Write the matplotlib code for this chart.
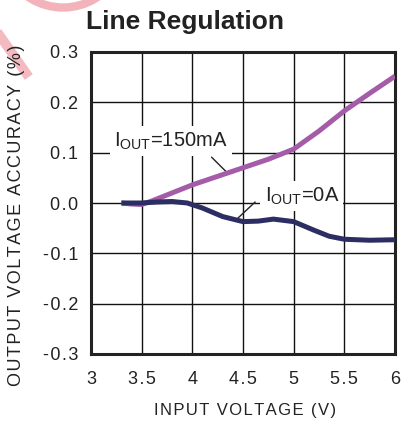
import numpy as np
import matplotlib
matplotlib.use('Agg')
import matplotlib.pyplot as plt
from matplotlib.patches import Arc
from matplotlib.lines import Line2D

plt.rcParams['font.family'] = ['Liberation Sans', 'DejaVu Sans']
plt.rcParams['mathtext.fontset'] = 'custom'
plt.rcParams['mathtext.rm'] = 'Liberation Sans'
plt.rcParams['mathtext.it'] = 'Liberation Sans'

# data
vin_150 = [3.3, 3.4, 3.5, 3.6, 3.8, 4.0, 4.25, 4.5, 4.75, 5.0, 5.25, 5.5, 5.75, 6.0]
acc_150 = [0.0, -0.002, -0.003, 0.004, 0.02, 0.036, 0.053, 0.07, 0.087, 0.107, 0.143, 0.183, 0.218, 0.252]
vin_0 = [3.3, 3.5, 3.65, 3.8, 3.95, 4.1, 4.3, 4.5, 4.65, 4.8, 5.0, 5.2, 5.35, 5.5, 5.75, 6.0]
acc_0 = [0.0, 0.0, 0.002, 0.003, 0.0, -0.01, -0.027, -0.037, -0.036, -0.032, -0.037, -0.054, -0.066, -0.072, -0.074, -0.073]

xticks = [3, 3.5, 4, 4.5, 5, 5.5, 6]
yticks = [-0.3, -0.2, -0.1, 0.0, 0.1, 0.2, 0.3]

HS = '\u200a'  # hair space for the loose letter spacing of the original


def spaced(s):
    return HS.join(s)


fig = plt.figure(figsize=(4.12, 4.24), dpi=100)
ax = fig.add_axes([91/412, 1-354/424, 304/412, 302/424])

ax.plot(vin_150, acc_150, color='#a45ba8', lw=3.6, zorder=3, solid_capstyle='butt')
ax.plot(vin_0, acc_0, color='#2c2e63', lw=3.6, zorder=3, solid_capstyle='butt')

ax.set_xlim(3, 6)
ax.set_ylim(-0.3, 0.3)
ax.set_xticks(xticks)
ax.set_xticklabels([spaced('%g' % v) for v in xticks])
ax.set_yticks(yticks)
ax.set_yticklabels([spaced('%.1f' % v) for v in yticks])
ax.tick_params(length=0, labelsize=13, colors='#222222')
ax.tick_params(axis='x', pad=12)
ax.tick_params(axis='y', pad=9)
ax.set_axisbelow(True)
ax.grid(True, color='#111111', lw=1.0)
for s in ax.spines.values():
    s.set_linewidth(2.2)
    s.set_color('#222222')

box = dict(facecolor='white', edgecolor='none', pad=3)
ax.text(3.79, 0.123, r'I$_{\rm OUT}$=150mA', fontsize=14.5, ha='center', va='center',
        bbox=box, zorder=2.5, color='#222222')
ax.annotate('', xy=(4.34, 0.061), xytext=(4.19, 0.091),
            arrowprops=dict(arrowstyle='-', lw=1, color='#222222', shrinkA=0, shrinkB=0), zorder=2.6)
ax.text(5.08, 0.014, r'I$_{\rm OUT}$=0A', fontsize=14.5, ha='center', va='center',
        bbox=box, zorder=2.5, color='#222222')
ax.annotate('', xy=(4.45, -0.030), xytext=(4.62, 0.002),
            arrowprops=dict(arrowstyle='-', lw=1, color='#222222', shrinkA=0, shrinkB=0), zorder=2.6)

fig.text(86/412, 1-22/424, 'Line Regulation', fontsize=19, weight='bold', ha='left', va='center', color='#222222')
fig.text(17/412, 1-215/424, spaced('OUTPUT VOLTAGE ACCURACY (%)'), fontsize=13, rotation=90,
         ha='center', va='center', color='#222222')
fig.text(245/412, 1-411/424, spaced('INPUT VOLTAGE (V)'), fontsize=12, ha='center', va='center', color='#222222')

# faint watermark remnants in the corner
wm = '#f2b3ba'
fig.patches.append(Arc((63/412, 1+45/424), 115/412, 105/424, theta1=200, theta2=340,
                       transform=fig.transFigure, color=wm, lw=6, zorder=0))
fig.lines.append(Line2D([0, 26/412], [1-36/424, 1-73/424], transform=fig.transFigure,
                        color=wm, lw=7, alpha=0.9, zorder=0))

fig.savefig('out.png', dpi=100)
